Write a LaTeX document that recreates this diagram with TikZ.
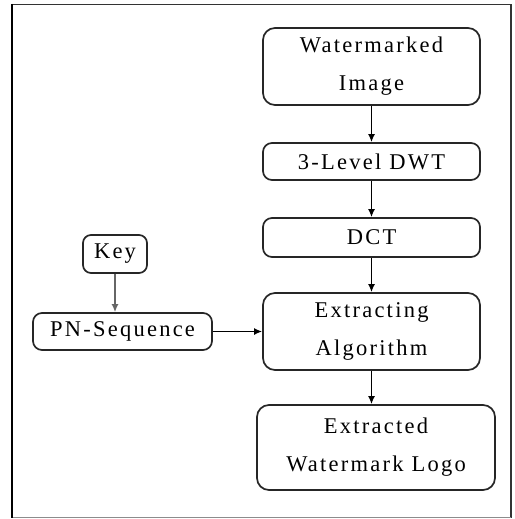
\documentclass[tikz,border=0pt]{standalone}
\usepackage{fontspec}
\setmainfont{Liberation Serif}[LetterSpace=10]
\usetikzlibrary{arrows.meta}
\begin{document}
\begin{tikzpicture}[x=1pt,y=-1pt,
  box/.style={draw=black!85, line width=1.7pt, rounded corners=#1, inner sep=0pt,
    align=center, font=\fontsize{22.5}{38}\selectfont},
  box/.default=12pt,
  flow/.style={draw=black, line width=1.5pt, -{Latex[length=8pt,width=7pt]}}]
  \useasboundingbox (0,0) rectangle (514,519);
  % outer frame
  \draw[black!80, line width=1.3pt] (12,4.5) -- (511,4.5) -- (511,517.7);
  \draw[black!45, line width=1pt] (511,517.7) -- (12,517.7);
  \draw[black, line width=2.2pt] (12,3.9) -- (12,518.2);
  % main chain
  \node[box, minimum width=217pt, minimum height=77pt] (wm) at (371.5,66.5) {Watermarked\\Image};
  \node[box=9pt, minimum width=217pt, minimum height=37pt] (dwt) at (371.5,161.5) {3-Level DWT};
  \node[box=9pt, minimum width=217pt, minimum height=39pt] (dct) at (371.5,237.5) {DCT};
  \node[box, minimum width=217pt, minimum height=77pt] (ext) at (371.5,331.5) {Extracting\\Algorithm};
  \node[box, minimum width=238pt, minimum height=85pt] (out) at (376,447.5) {Extracted\\Watermark Logo};
  % key branch
  \node[box=8pt, minimum width=64pt, minimum height=38pt] (key) at (115,254) {Key};
  \node[box=9pt, minimum width=179pt, minimum height=37pt] (pn) at (122.5,331.5) {PN-Sequence};
  % connectors
  \draw[flow] (wm.south -| dwt.north) -- (dwt.north);
  \draw[flow] (dwt) -- (dct);
  \draw[flow] (dct) -- (ext);
  \draw[flow] (ext) -- (out.north -| ext.south);
  \draw[flow, draw=black!60] (key) -- (pn.north -| key.south);
  \draw[flow] (pn) -- (ext);
\end{tikzpicture}
\end{document}
